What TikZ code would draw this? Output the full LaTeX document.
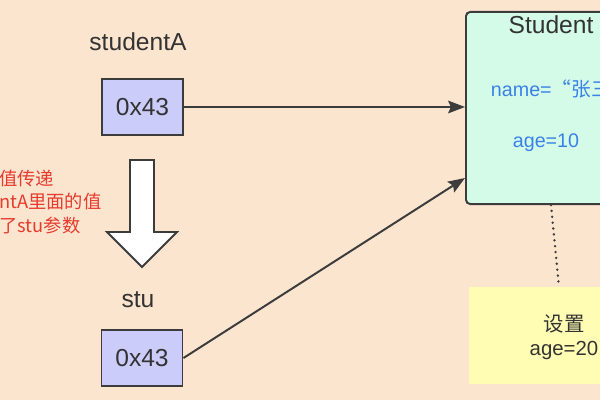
\documentclass[tikz,border=0pt]{standalone}
\usepackage{fontspec}
\setmainfont{Liberation Sans}
\newfontfamily\cjk{Noto Sans CJK SC}
\usepackage{tikz}
\usetikzlibrary{calc}
\usetikzlibrary{arrows.meta}
\definecolor{bgpeach}{HTML}{FBE5CF}
\definecolor{linegray}{HTML}{3C3C3C}
\definecolor{textgray}{HTML}{333333}
\definecolor{addrblue}{HTML}{CCCCFB}
\definecolor{objmint}{HTML}{D4FAE8}
\definecolor{noteyellow}{HTML}{FFFDB4}
\definecolor{fieldblue}{HTML}{3A82E8}
\definecolor{remarkred}{HTML}{E63B2E}
\tikzstyle{varname} = [text=textgray, 
font=\fontsize{17.5}{20}\selectfont]
\tikzstyle{pointer} = [rectangle, 
minimum width=2.025cm, 
minimum height=1.4cm, 
inner sep=0pt, 
draw=linegray, line width=1.4pt, 
fill=addrblue, 
text=textgray, 
font=\fontsize{17.5}{20}\selectfont]
\tikzstyle{object} = [rectangle, rounded corners=3pt, 
minimum width=4.4cm, 
minimum height=4.8cm, 
inner sep=0pt, 
draw=linegray, line width=1.4pt, 
fill=objmint]
\tikzstyle{field} = [text=fieldblue, 
font=\fontsize{14}{17}\selectfont]
\tikzstyle{note} = [rectangle, 
minimum width=3.6cm, 
minimum height=2.425cm, 
inner sep=0pt, 
fill=noteyellow]
\tikzstyle{remark} = [text=remarkred, align=left, inner sep=0pt, 
font=\cjk\fontsize{13}{17}\selectfont]
\tikzstyle{blockarrow} = [draw=linegray, line width=1.4pt, fill=white, line join=miter]
\tikzstyle{arrow} = [draw=linegray, line width=1.4pt, -{Stealth[length=12pt, width=9pt, inset=2pt]}]
\tikzstyle{dotline} = [draw=linegray, line width=1.9pt, line cap=round, dash pattern=on 0pt off 4.2pt]

\begin{document}
\begin{tikzpicture} [x=0.025cm, y=-0.025cm]
    \useasboundingbox (0,0) rectangle (600,400);
    \clip (0,0) rectangle (600,400);
    \fill [bgpeach] (0,0) rectangle (600,400);

    \node (student_a) [varname] at (138,42) {studentA};
    \node (addr_a) [pointer] at (142.5,107) {0x43};
    \node (stu) [varname] at (138,300) {stu};
    \node (addr_stu) [pointer] at (142,358) {0x43};

    \node (obj) [object, anchor=north west] at (465,11) {};
    \node (obj_title) [varname] at (551,25) {Student};
    \node (obj_name) [field, anchor=west] at (486,89) {name={\cjk “张三}};
    \node (obj_age) [field] at (546,143) {age=10};

    \node (note) [note, anchor=north west] at (469,287) {};
    \node (note_text) [varname, align=center, font=\fontsize{14.5}{17}\selectfont] at (564,337) {{\cjk 设置}\\age=20};

    \node (pass_note) [remark, anchor=west] at (-1,202) {值传递\\ntA里面的值\\了stu参数};

    % copy of the reference value
    \draw [blockarrow] (130,160) -- (154,160) -- (154,232) -- (177,232) -- (142,267) -- (107,232) -- (130,232) -- cycle;

    \coordinate (hit) at ($(obj.north west)+(0,167)$);
    \coordinate (dot_top) at ($(obj.south west)+(86,0)$);
    \coordinate (dot_bot) at ($(note.north west)+(90,0)$);

    \draw [arrow] (addr_a) -- (addr_a -| obj.west);
    \draw [arrow] (addr_stu.east) -- (hit);
    \draw [dotline] (dot_top) -- (dot_bot);

\end{tikzpicture}
\end{document}
